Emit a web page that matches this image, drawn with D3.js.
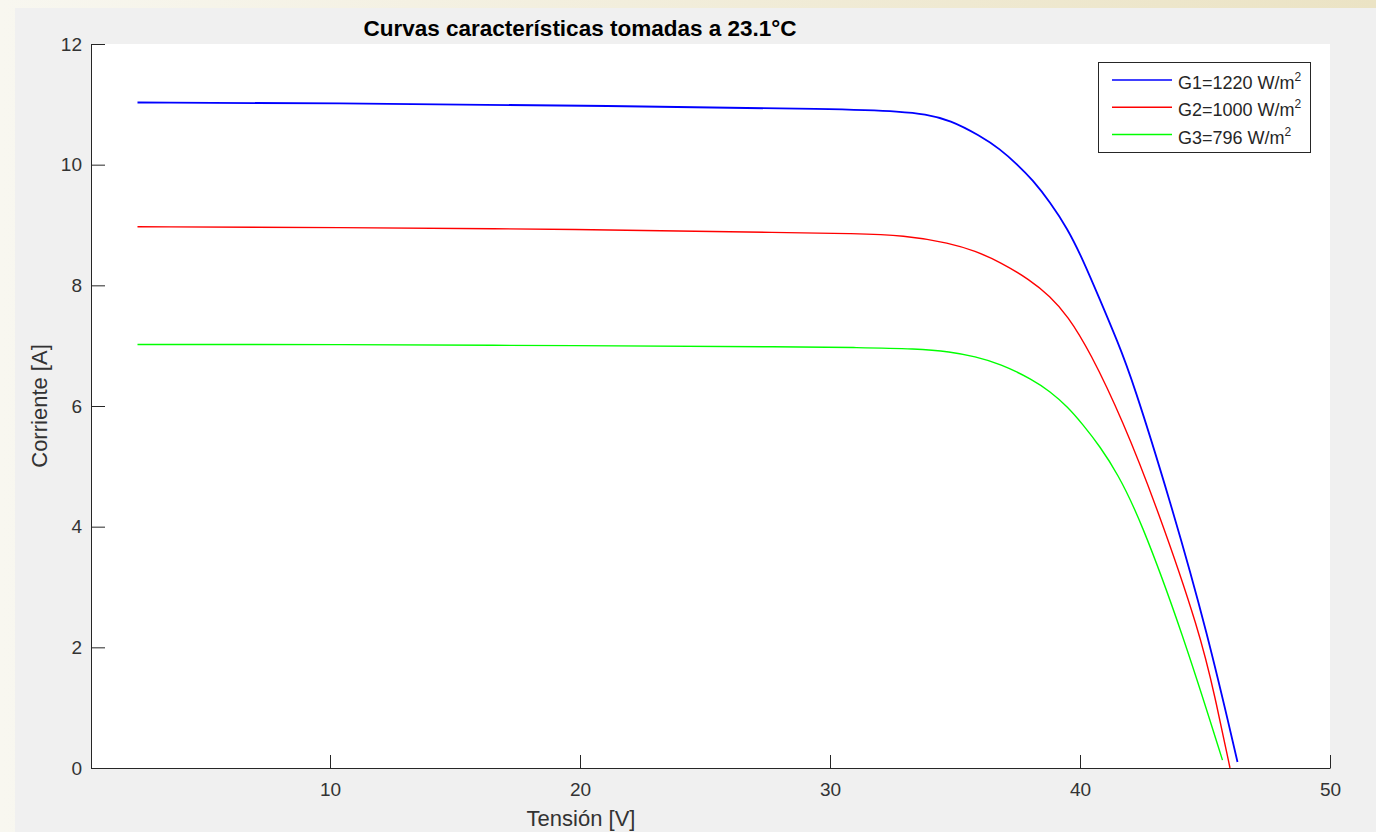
<!DOCTYPE html>
<html>
<head>
    <script src="https://d3js.org/d3.v7.min.js"></script>
    <style>
        body { margin: 0; }
        svg { display: block; font-family: "Liberation Sans", Arial, Helvetica, sans-serif; }
        .axis text { font-size: 19px; fill: #333; }
        .axis path, .axis line { stroke: #262626; }
        .legend text { font-size: 18px; fill: #262626; }
    </style>
</head>
<body>
    <svg width="1376" height="832"></svg>

    <script>
        // Series (voltage in V, current in A)
        const g1Voltage = [2.3, 10, 20, 30.9, 32.8, 33.8, 34.8, 36.0, 36.8, 37.5, 38.1, 38.8, 39.5, 40.1, 40.8, 41.5, 42.1, 43.6, 45.1, 46.3];
        const g1Current = [11.03, 11.02, 10.98, 10.92, 10.88, 10.84, 10.74, 10.48, 10.26, 10.00, 9.75, 9.38, 8.94, 8.44, 7.76, 7.07, 6.43, 4.44, 2.24, 0.10];

        const g2Voltage = [2.3, 10, 20, 28.8, 30.8, 33.0, 34.8, 35.8, 36.8, 38.0, 38.8, 39.5, 40.4, 41.7, 43.1, 44.8, 45.4, 46.0];
        const g2Current = [8.97, 8.96, 8.93, 8.87, 8.86, 8.83, 8.70, 8.57, 8.39, 8.09, 7.82, 7.50, 6.90, 5.77, 4.30, 2.24, 1.18, 0.0];

        const g3Voltage = [2.3, 10, 20, 28.8, 31, 33.5, 34.8, 35.8, 36.8, 38.1, 38.8, 39.5, 40.1, 40.8, 41.5, 42.4, 44.1, 45.7];
        const g3Current = [7.02, 7.02, 7.00, 6.98, 6.97, 6.95, 6.90, 6.82, 6.70, 6.44, 6.24, 5.99, 5.70, 5.33, 4.88, 4.14, 2.24, 0.13];

        const seriesNames = ["G1=1220 W/m", "G2=1000 W/m", "G3=796 W/m"];
        const seriesColors = ["#0000ff", "#ff0000", "#00ff00"];
        const xTicks = [10, 20, 30, 40, 50];
        const yTicks = [0, 2, 4, 6, 8, 10, 12];

        const svg = d3.select("svg"),
              width = 1376, height = 832,
              plot = { left: 91, right: 1330, top: 44, bottom: 768 };

        // Slide background and figure panel
        const defs = svg.append("defs");
        const bg = defs.append("linearGradient").attr("id", "bg")
            .attr("x1", "0%").attr("x2", "100%").attr("y1", "0%").attr("y2", "0%");
        bg.append("stop").attr("offset", "0%").attr("stop-color", "#f8f7f0");
        bg.append("stop").attr("offset", "100%").attr("stop-color", "#ebe3c4");
        svg.append("rect").attr("width", width).attr("height", height).attr("fill", "url(#bg)");
        svg.append("rect").attr("x", 15).attr("y", 8)
            .attr("width", width - 15).attr("height", height - 8).attr("fill", "#f0f0f0");
        svg.append("rect").attr("x", plot.left).attr("y", plot.top)
            .attr("width", plot.right - plot.left).attr("height", plot.bottom - plot.top)
            .attr("fill", "white");

        const x = d3.scaleLinear().domain([0.44, 50]).range([plot.left, plot.right]);
        const y = d3.scaleLinear().domain([0, 12]).range([plot.bottom, plot.top]);

        // Curves
        const series = [
            { v: g1Voltage, i: g1Current, w: 1.8 },
            { v: g2Voltage, i: g2Current, w: 1.4 },
            { v: g3Voltage, i: g3Current, w: 1.4 }
        ];
        const line = d3.line().x(d => x(d[0])).y(d => y(d[1])).curve(d3.curveBasis);

        series.forEach((s, k) => {
            svg.append("path")
                .datum(d3.zip(s.v, s.i))
                .attr("fill", "none")
                .attr("stroke", seriesColors[k])
                .attr("stroke-width", s.w)
                .attr("d", line);
        });

        // Axes (ticks pointing inwards, MATLAB style)
        svg.append("g")
            .attr("class", "axis")
            .attr("transform", `translate(0, ${plot.bottom})`)
            .call(d3.axisBottom(x).tickValues(xTicks).tickSizeInner(-13).tickSizeOuter(0).tickPadding(15));

        svg.append("g")
            .attr("class", "axis")
            .attr("transform", `translate(${plot.left}, 0)`)
            .call(d3.axisLeft(y).tickValues(yTicks).tickSizeInner(-14).tickSizeOuter(0).tickPadding(9));

        svg.selectAll(".axis").attr("font-family", null).attr("font-size", null);

        // Title and axis labels
        svg.append("text")
            .attr("x", 580).attr("y", 36)
            .attr("text-anchor", "middle")
            .attr("font-weight", "bold")
            .attr("font-size", "22.5px")
            .attr("fill", "#000")
            .text("Curvas características tomadas a 23.1°C");

        svg.append("text")
            .attr("x", 581).attr("y", 826)
            .attr("text-anchor", "middle")
            .attr("font-size", "22px")
            .attr("fill", "#333")
            .text("Tensión [V]");

        svg.append("text")
            .attr("transform", `translate(47, ${(plot.top + plot.bottom) / 2}) rotate(-90)`)
            .attr("text-anchor", "middle")
            .attr("font-size", "22px")
            .attr("fill", "#333")
            .text("Corriente [A]");

        // Legend
        const legend = svg.append("g").attr("class", "legend");
        legend.append("rect")
            .attr("x", 1098.5).attr("y", 62.5)
            .attr("width", 212).attr("height", 90)
            .attr("fill", "white")
            .attr("stroke", "#262626");

        const rowY = d3.scaleLinear().domain([0, 2]).range([80, 134.5]);
        seriesNames.forEach((name, k) => {
            legend.append("line")
                .attr("x1", 1112).attr("x2", 1172)
                .attr("y1", rowY(k)).attr("y2", rowY(k))
                .attr("stroke", seriesColors[k])
                .attr("stroke-width", 1.5);
            const t = legend.append("text")
                .attr("x", 1178).attr("y", rowY(k) + 9);
            t.append("tspan").text(name);
            t.append("tspan")
                .attr("dy", -8)
                .attr("font-size", "12px")
                .text("2");
        });
    </script>
</body>
</html>
